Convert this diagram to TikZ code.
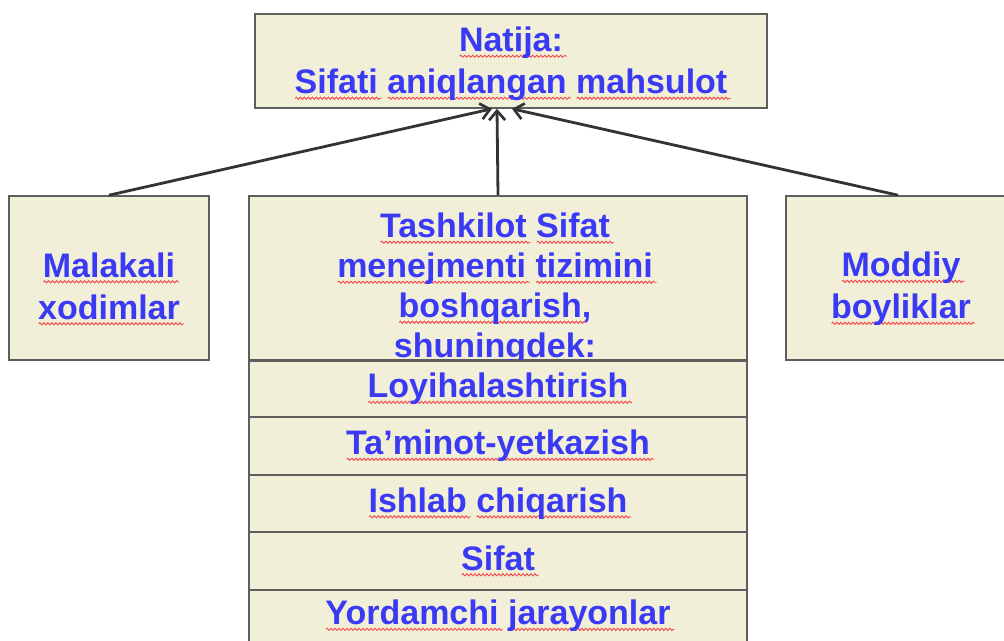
\documentclass[tikz,border=0pt]{standalone}
\usepackage{fontspec}
\setmainfont{Liberation Sans}
\usetikzlibrary{arrows.meta,calc,decorations.pathmorphing}
\definecolor{boxfill}{HTML}{F2EFD8}
\definecolor{boxline}{HTML}{5E5E5E}
\definecolor{txtblue}{HTML}{3A3AF5}
\definecolor{wavered}{HTML}{F04A4A}
\definecolor{arrowc}{HTML}{333333}
\newsavebox\wvbox
\newcommand\wv[1]{\sbox\wvbox{#1}\leavevmode\rlap{\tikz[baseline=0pt,x=1pt,y=1pt]\draw[wavered,line width=0.7pt,decorate,decoration={snake,amplitude=0.8pt,segment length=3pt}] (-1pt,-3.4pt) -- ([xshift=1.5pt]\the\wd\wvbox,-3.4pt);}\usebox\wvbox}
\begin{document}
\begin{tikzpicture}[x=0.75pt,y=-0.75pt,
  box/.style={draw=boxline,line width=1.2pt,fill=boxfill,inner sep=0pt,align=center},
  txt/.style={font=\fontsize{25.5}{31.5}\selectfont\bfseries,text=txtblue,align=center,inner sep=0pt},
  midtext/.style={font=\fontsize{25.5}{30}\selectfont\bfseries,text=txtblue,align=center,inner sep=0pt},
  conn/.style={draw=arrowc,line width=2.1pt,-{Straight Barb[length=7pt,width=12pt,line width=2pt]}}]
\useasboundingbox (0,0) rectangle (1004,641);
\clip (0,0) rectangle (1004,641);
\fill[white] (0,0) rectangle (1004,641);
% top box
\node[box,minimum width=384pt,minimum height=70.5pt] (top) at (511,61) {};
\node[txt] (toptxt) at (511,64) {\wv{Natija:}\\\wv{Sifati} \wv{aniqlangan} \wv{mahsulot}};
% side and middle boxes
\node[box,minimum width=150pt,minimum height=123pt] (left) at (109,278) {};
\node[box,minimum width=373.5pt,minimum height=123pt] (mid) at (498,278) {};
\node[box,minimum width=168pt,minimum height=123pt] (right) at (898,278) {};
\node[txt] (lefttxt) at (109,289) {\wv{Malakali}\\\wv{xodimlar}};
\node[midtext] (midtxt) at (495,289) {\wv{Tashkilot} \wv{Sifat}\\\wv{menejmenti} \wv{tizimini}\\\wv{boshqarish},\\\wv{shuningdek}:};
\node[txt] (righttxt) at (901,289) {\wv{Moddiy}\\\wv{boyliklar}};
% rows
\node[box,txt,draw=boxline,minimum width=373.5pt,minimum height=42pt] (r1) at (498,389) {\wv{Loyihalashtirish}};
\node[box,txt,draw=boxline,minimum width=373.5pt,minimum height=43.5pt] (r2) at (498,446) {\wv{Ta’minot-yetkazish}};
\node[box,txt,draw=boxline,minimum width=373.5pt,minimum height=42.75pt] (r3) at (498,503.5) {\wv{Ishlab} \wv{chiqarish}};
\node[box,txt,draw=boxline,minimum width=373.5pt,minimum height=43.5pt] (r4) at (498,561) {\wv{Sifat}};
\node[box,txt,draw=boxline,minimum width=373.5pt,minimum height=39pt] (r5) at (498,616) {\wv{Yordamchi} \wv{jarayonlar}};
% connectors
\coordinate (tl) at ($(top.south)+(-19,0)$);
\coordinate (tm) at ($(top.south)+(-14,0)$);
\coordinate (tr) at ($(top.south)+(1,0)$);
\draw[conn] (left.north) -- (tl);
\draw[conn] (mid.north) -- (tm);
\draw[conn] (right.north) -- (tr);
\end{tikzpicture}
\end{document}
